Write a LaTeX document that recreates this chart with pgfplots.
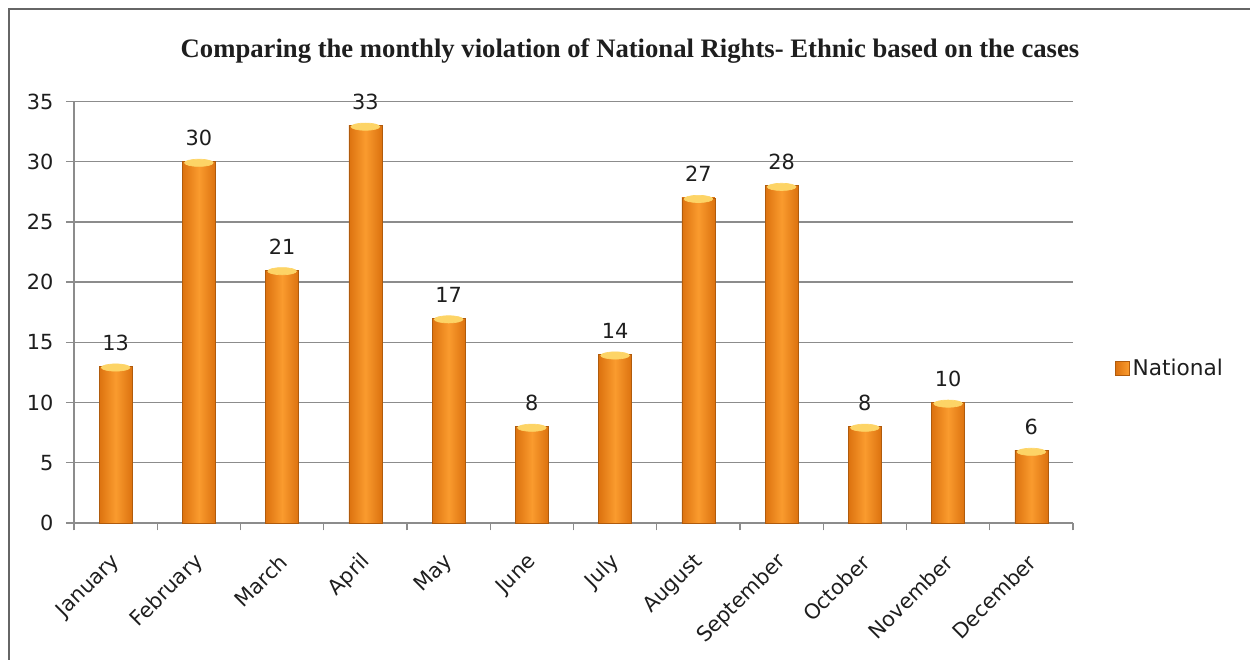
\documentclass[border=0pt]{standalone}
\usepackage{pgfplots}
\pgfplotsset{compat=1.18}
\usepackage{fontspec}
\setmainfont{DejaVu Sans}
\newfontfamily\titlefont{Liberation Serif}
\definecolor{barmid}{HTML}{FA9B2E}
\definecolor{baredge}{HTML}{DC720F}
\definecolor{bartop}{HTML}{FDD466}
\definecolor{gridc}{HTML}{8C8C8C}
\definecolor{txt}{HTML}{1E1E1E}
\pgfplotsset{barstyle/.style={ybar, bar width=19.8pt, bar shift=0pt, draw=baredge!80!black, left color=baredge, right color=baredge, middle color=barmid}}
\begin{document}
\begin{tikzpicture}[x=0.6pt,y=0.6pt]
\path[use as bounding box] (0,0) rectangle (1250,660);
\draw[color=gray!80!black, line width=1.3pt] (9,-5) -- (9,651) -- (1255,651);
\node[font=\titlefont\fontsize{16}{19}\selectfont\bfseries, text=txt] at (630,609) {Comparing the monthly violation of National Rights- Ethnic based on the cases};
\begin{axis}[
  at={(44.4pt,82.2pt)}, anchor=south west,
  scale only axis, width=599.4pt, height=252.9pt,
  xmin=-0.5, xmax=11.5, ymin=0, ymax=35,
  axis x line*=bottom, axis y line*=left,
  axis line style={-, gridc, line width=0.8pt},
  ytick={0,5,...,35},
  ymajorgrids, grid style={gridc, line width=0.8pt},
  xtick={0,...,11},
  xticklabels={January,February,March,April,May,June,July,August,September,October,November,December},
  minor xtick={-0.5,0.5,...,11.5},
  tick align=outside,
  major x tick style={draw=none},
  major tick length=4.8pt, minor tick length=4.5pt,
  tick style={gridc, line width=0.8pt},
  every tick label/.append style={font=\fontsize{12.5}{14}\selectfont, text=txt},
  xticklabel style={xshift=3pt, yshift=-14pt, rotate=45, anchor=east},
  yticklabel style={xshift=-4pt},
  ticklabel style={/pgf/number format/assume math mode=true},
  legend style={at={(1.037,0.367)}, anchor=west, draw=none, fill=none, font=\fontsize{13}{15}\selectfont, text=txt},
  legend image code/.code={\fill[left color=baredge, right color=barmid] (0pt,-4pt) rectangle (8pt,4pt);},
  nodes near coords,
  nodes near coords style={font=\fontsize{12.5}{14}\selectfont, text=txt, anchor=south, yshift=6pt, /pgf/number format/assume math mode=true},
  clip=false,
]
\addplot[barstyle] coordinates {(0,13)};
\addlegendentry{National}
\addplot[barstyle, forget plot] coordinates {(1,30)};
\addplot[barstyle, forget plot] coordinates {(2,21)};
\addplot[barstyle, forget plot] coordinates {(3,33)};
\addplot[barstyle, forget plot] coordinates {(4,17)};
\addplot[barstyle, forget plot] coordinates {(5,8)};
\addplot[barstyle, forget plot] coordinates {(6,14)};
\addplot[barstyle, forget plot] coordinates {(7,27)};
\addplot[barstyle, forget plot] coordinates {(8,28)};
\addplot[barstyle, forget plot] coordinates {(9,8)};
\addplot[barstyle, forget plot] coordinates {(10,10)};
\addplot[barstyle, forget plot] coordinates {(11,6)};
\addplot[only marks, mark=*, mark size=8.6pt, nodes near coords=\empty, mark options={yscale=0.25, fill=bartop, draw=bartop, yshift=-2.6pt}, forget plot]
  coordinates {(0,13) (1,30) (2,21) (3,33) (4,17) (5,8) (6,14) (7,27) (8,28) (9,8) (10,10) (11,6)};
\end{axis}
\end{tikzpicture}
\end{document}
